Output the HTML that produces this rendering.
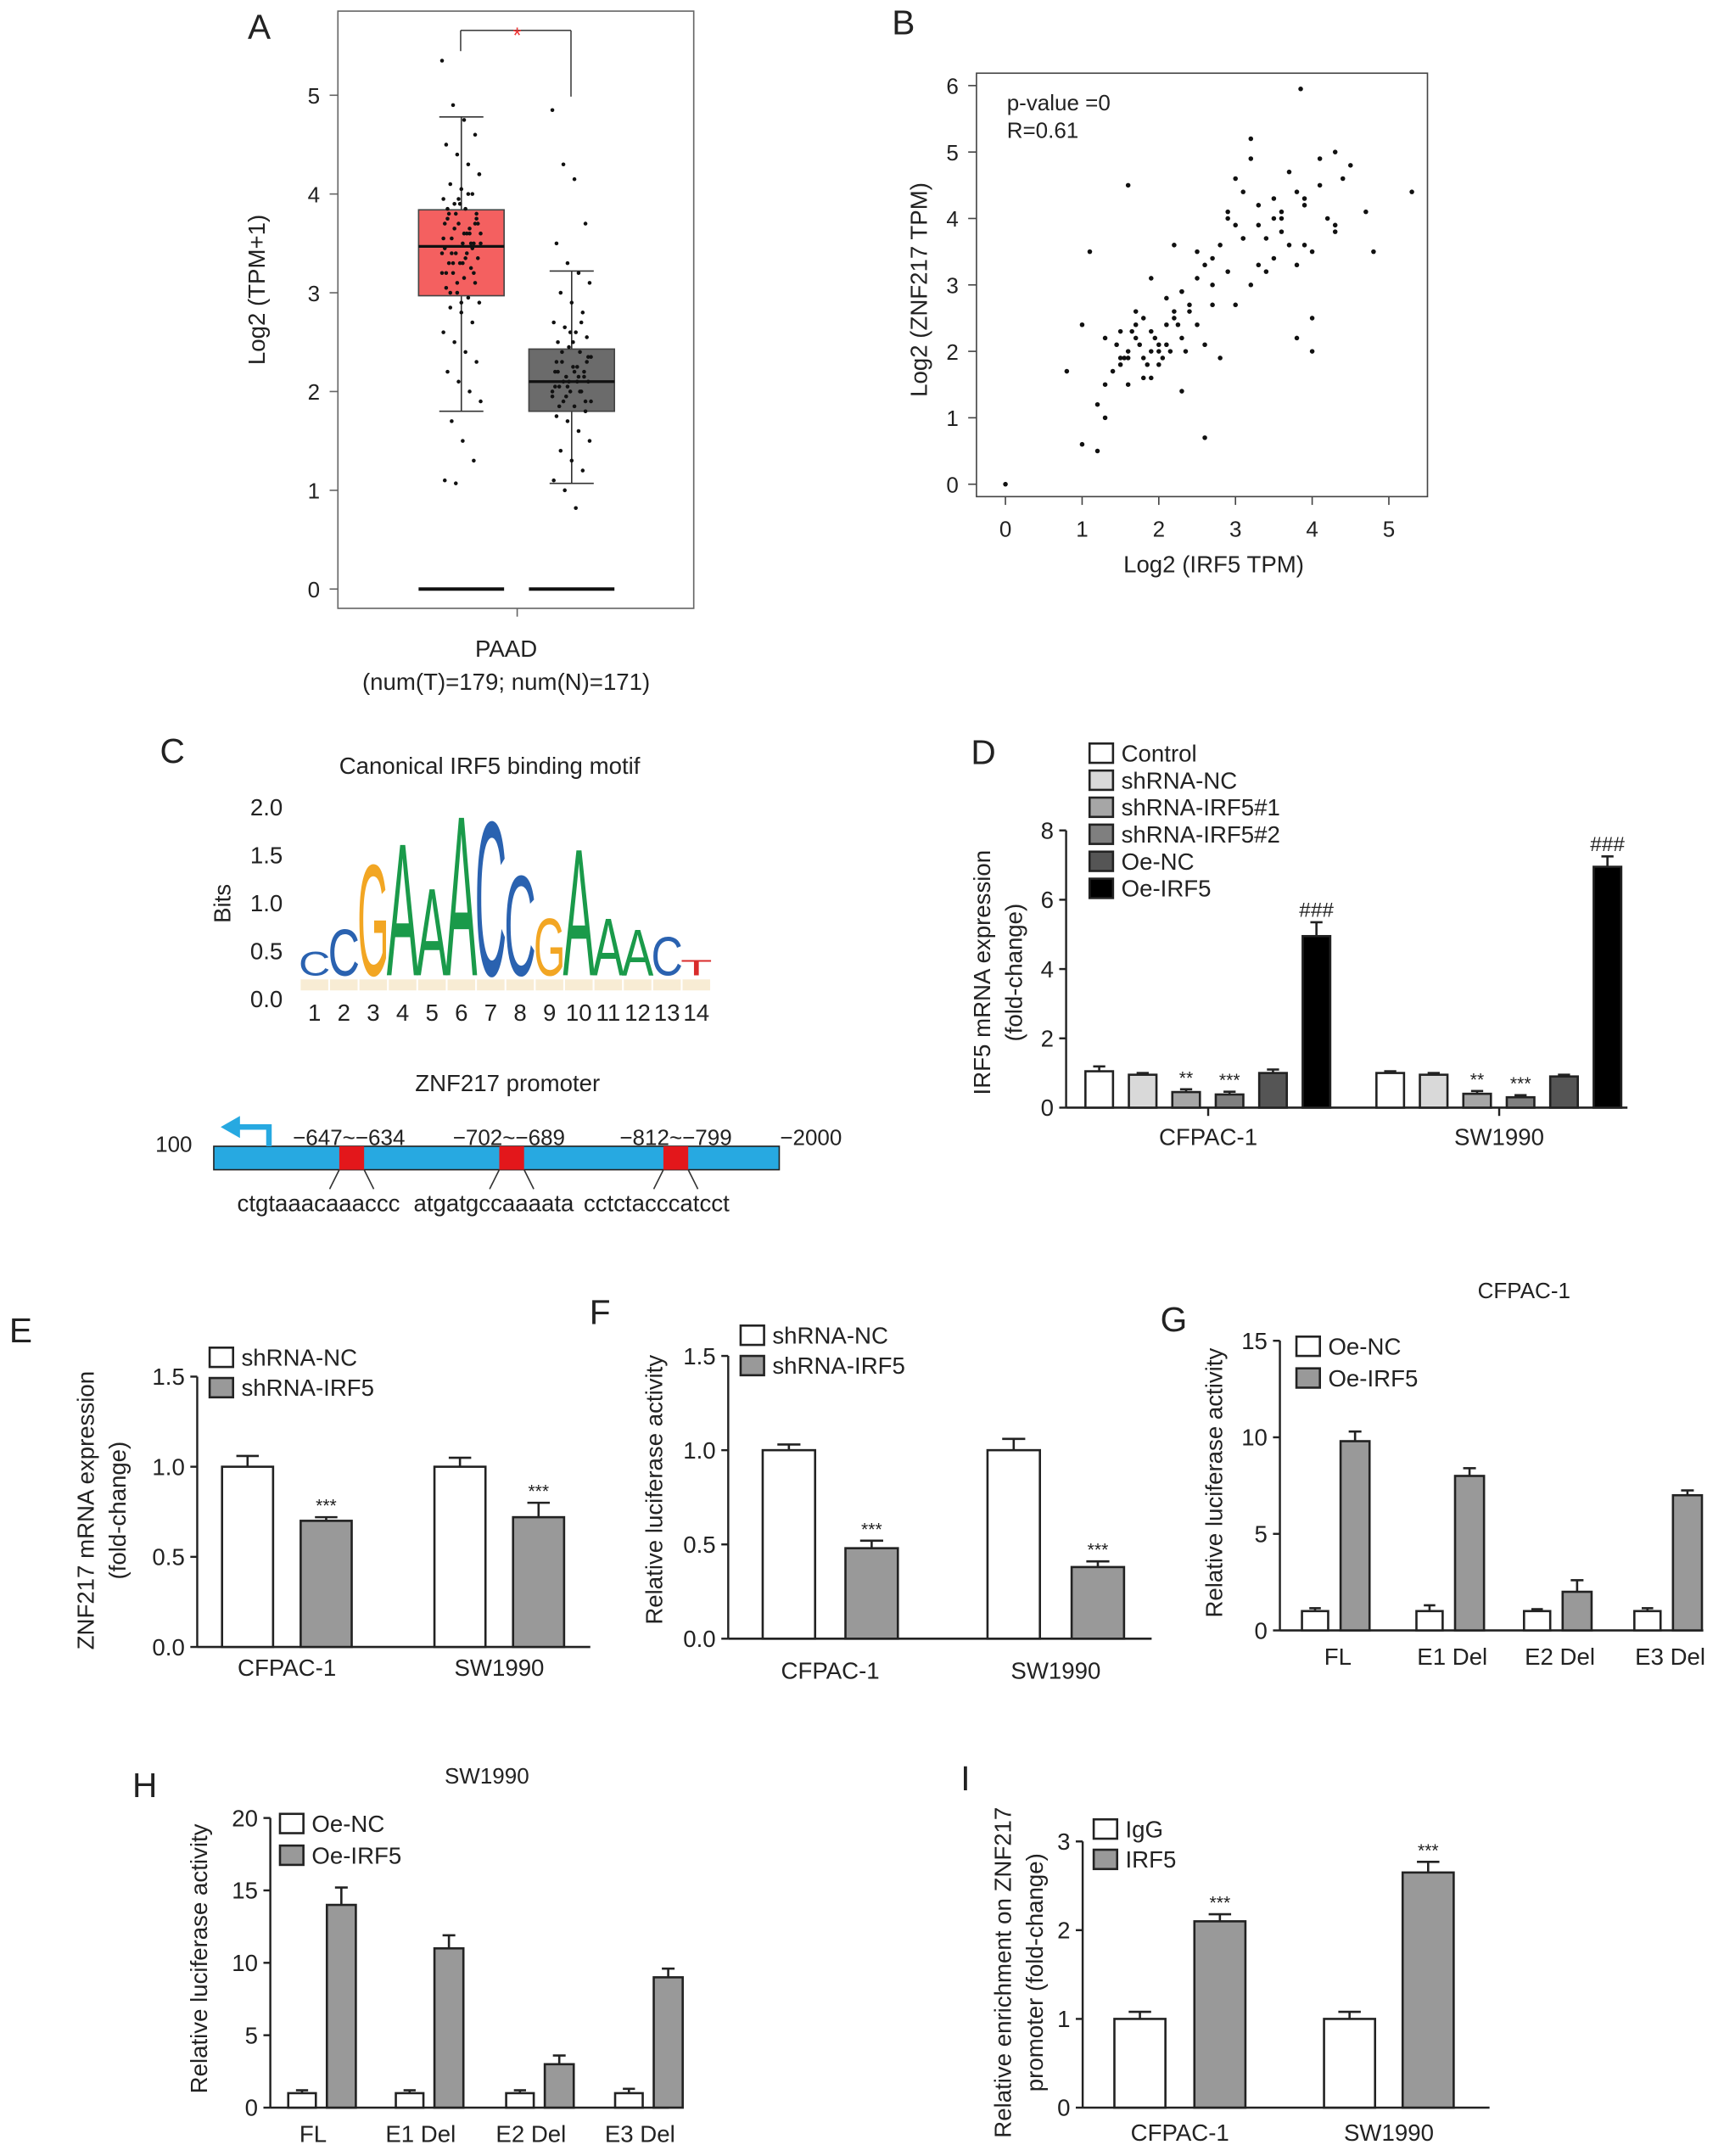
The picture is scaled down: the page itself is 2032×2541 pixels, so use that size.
<!DOCTYPE html>
<html><head><meta charset="utf-8"><style>
html,body{margin:0;padding:0;background:#fff}
svg{display:block;font-family:"Liberation Sans",Arial,sans-serif}
</style></head><body>
<svg id="fig" width="2032" height="2541" viewBox="0 0 1250 1563" xmlns="http://www.w3.org/2000/svg"></svg>
<script>
// ---------- DATA ----------
// Panel A
const boxLabels=["Tumor","Normal"];
const boxQ1=[2.97,1.80], boxMed=[3.47,2.10], boxQ3=[3.84,2.43], boxLo=[1.80,1.07], boxHi=[4.78,3.22];
const aTicks=[0,1,2,3,4,5];
const ptsT=[5.35,4.9,4.75,4.6,4.5,4.4,4.3,4.2,4.1,4.05,4.0,3.95,3.9,3.85,3.8,3.75,3.7,3.65,3.6,3.55,3.5,3.5,3.45,3.4,3.4,3.35,3.3,3.3,3.25,3.2,3.2,3.15,3.1,3.05,3.0,2.95,2.9,2.85,2.8,2.7,2.6,2.5,2.4,2.3,2.2,2.1,2.0,1.9,1.7,1.5,1.3,1.1,1.07,3.6,3.7,3.8,3.9,3.5,3.4,3.3,3.6,3.7,3.2,3.1,4.0,4.2,3.0,2.9,3.45,3.55,3.65,3.35,3.75,3.85,3.95,3.6,3.5,3.4,3.3,3.2,3.7,3.8];
const ptsN=[4.85,4.3,4.15,3.7,3.5,3.3,3.2,3.1,3.0,2.9,2.8,2.7,2.65,2.6,2.55,2.5,2.45,2.4,2.35,2.3,2.25,2.2,2.2,2.15,2.1,2.1,2.05,2.0,2.0,1.95,1.9,1.85,1.8,1.75,1.7,1.6,1.5,1.4,1.3,1.2,1.1,1.0,0.82,2.3,2.2,2.1,2.0,1.9,2.4,2.5,2.15,2.05,1.95,2.25,2.35,1.85,2.6,2.7,2.0,2.1,2.2,1.9,2.3,2.05,2.15];
// Panel B
const scX=[0,1.0,1.2,1.3,1.5,1.6,1.7,1.8,1.9,2.0,2.1,2.2,2.3,1.4,1.6,1.8,2.0,2.2,2.4,1.5,1.7,1.9,2.1,2.3,2.5,1.3,1.2,1.6,2.0,2.4,2.6,2.8,3.0,2.7,2.9,3.1,3.3,3.5,3.7,3.9,4.1,4.3,4.5,3.2,3.4,3.6,3.8,4.0,4.2,4.4,3.0,3.2,3.4,3.6,3.8,4.0,2.5,2.7,2.9,3.1,3.3,3.5,3.7,3.9,4.1,4.3,5.3,4.0,3.8,2.8,2.6,3.0,3.2,1.6,1.1,0.8,1.0,1.3,1.5,1.7,1.9,2.1,2.3,2.5,2.7,3.1,3.5,3.9,4.3,4.7,4.8,3.6,3.3,2.9,2.2,1.8,3.85,1.9,2.3,2.6,1.75,1.85,1.95,2.05,2.15,1.65,1.55,2.25,1.45,2.35];
const scY=[0,0.6,1.2,1.5,1.8,2.0,2.2,1.9,2.3,2.1,2.4,2.6,2.2,1.7,1.9,1.6,2.0,2.5,2.7,2.3,2.4,2.0,2.8,2.9,3.1,1.0,0.5,1.5,1.8,2.6,3.3,3.6,3.9,3.4,4.1,3.7,4.2,4.0,3.6,4.3,4.5,3.9,4.8,3.0,3.2,3.8,4.4,3.5,4.0,4.6,4.6,4.9,3.7,4.1,3.3,2.5,3.5,3.0,3.2,4.4,3.9,4.3,4.7,3.6,4.9,5.0,4.4,2.0,2.2,1.9,2.1,2.7,5.2,4.5,3.5,1.7,2.4,2.2,1.9,2.6,1.6,2.1,2.9,2.4,2.7,3.7,3.4,4.2,3.8,4.1,3.5,4.0,3.3,4.0,3.6,2.5,5.95,3.1,1.4,0.7,2.1,1.8,2.2,1.9,2.0,2.3,1.9,2.4,2.1,2.0];
const bTicksX=[0,1,2,3,4,5], bTicksY=[0,1,2,3,4,5,6];
// Panel C motif
const motifLetters=["C","C","G","A","A","A","C","C","G","A","A","A","C","T"];
const motifBits=[0.26,0.50,1.21,1.44,0.95,1.74,1.68,1.09,0.62,1.38,0.62,0.50,0.42,0.17];
const cTicks=[0,0.5,1.0,1.5,2.0];
// Panel D
const dGroups=["CFPAC-1","SW1990"];
const dSeries=["Control","shRNA-NC","shRNA-IRF5#1","shRNA-IRF5#2","Oe-NC","Oe-IRF5"];
const dVals=[[1.05,0.95,0.45,0.38,1.0,4.95],[1.0,0.95,0.4,0.3,0.9,6.95]];
const dErr=[[0.14,0.05,0.08,0.08,0.1,0.4],[0.05,0.05,0.08,0.06,0.05,0.3]];
const dSig=[["","","**","***","","###"],["","","**","***","","###"]];
const dTicks=[0,2,4,6,8];
// Panel E
const eVals=[[1.0,0.70],[1.0,0.72]], eErr=[[0.06,0.02],[0.05,0.08]];
const eTicks=[0,0.5,1.0,1.5];
// Panel F
const fVals=[[1.0,0.48],[1.0,0.38]], fErr=[[0.03,0.04],[0.06,0.03]];
const fTicks=[0,0.5,1.0,1.5];
// Panel G
const gGroups=["FL","E1 Del","E2 Del","E3 Del"];
const gVals=[[1,9.8],[1,8.0],[1,2.0],[1,7.0]], gErr=[[0.15,0.5],[0.3,0.4],[0.1,0.6],[0.15,0.25]];
const gTicks=[0,5,10,15];
// Panel H
const hVals=[[1,14],[1,11],[1,3],[1,9]], hErr=[[0.2,1.2],[0.2,0.9],[0.2,0.6],[0.3,0.6]];
const hTicks=[0,5,10,15,20];
// Panel I
const iVals=[[1.0,2.1],[1.0,2.65]], iErr=[[0.08,0.08],[0.08,0.12]];
const iTicks=[0,1,2,3];

// ---------- HELPERS ----------
const svg=document.getElementById('fig');
const NS="http://www.w3.org/2000/svg";
function mk(tag,attrs,parent,txt){const e=document.createElementNS(NS,tag);for(const k in attrs)e.setAttribute(k,attrs[k]);if(txt!==undefined)e.textContent=txt;(parent||svg).appendChild(e);return e;}
function grp(name){const g=mk('g',{});


return g;}
function txt(g,x,y,s,size,anchor,name,extra){const t=mk('text',Object.assign({x:x,y:y,'font-size':size||15,'text-anchor':anchor||'middle',fill:'#222'},extra||{}),g,s);


return t;}
function line(g,x1,y1,x2,y2,w,c){return mk('line',{x1,y1,x2,y2,stroke:c||'#222','stroke-width':w||1.2},g);}
function lin(d0,d1,r0,r1){return v=>r0+(v-d0)*(r1-r0)/(d1-d0);}
function rotTitle(g,x,y,s,name){const t=txt(g,x,y,s,17,'middle',name,{transform:`rotate(-90 ${x} ${y})`});return t;}
function panelLetter(x,y,l){const t=txt(svg,x,y,l,25,'middle','panel-label-'+l.toLowerCase());}

function yAxis(g,x,y0,y1,ticks,ys,fmt){line(g,x,y0,x,y1,1.5);ticks.forEach(v=>{const y=ys(v);line(g,x-5,y,x,y,1.5);txt(g,x-9,y+6,fmt?fmt(v):String(v),17,'end','y-tick-label');});}
function bar(g,x,w,v,e,ys,fill,name,sig){
  const y=ys(v),y0=ys(0);
  const r=mk('rect',{x:x,y:y,width:w,height:y0-y,fill:fill,stroke:'#222','stroke-width':1.6},g);
  
  
  const ye=ys(v+e);line(g,x+w/2,y,x+w/2,ye,1.6);line(g,x+w/2-w*0.22,ye,x+w/2+w*0.22,ye,1.6);
  if(sig)txt(g,x+w/2,ye-4,sig,sig[0]=='#'?15:13,'middle','significance-mark');
}
function legend(g,x,y,items,fills,step){items.forEach((s,i)=>{const r=mk('rect',{x:x,y:y+i*step-13,width:17,height:14,fill:fills[i],stroke:'#222','stroke-width':1.6},g);


txt(g,x+23,y+i*step,s,17,'start','legend-entry');});}

// ---------- PANEL A ----------
(function(){const g=grp('panel-a-boxplot');
panelLetter(188,28,'A');
mk('rect',{x:245,y:8,width:258,height:433,fill:'none',stroke:'#666','stroke-width':1},g);
const ys=lin(0,5,427,69);
aTicks.forEach(v=>{const y=ys(v);line(g,239,y,245,y,1,'#666');txt(g,232,y+6,String(v),16,'end','y-tick-label');});
rotTitle(g,192,210,'Log2 (TPM+1)','y-axis-title');
const cx=[334.5,414.5],fills=['#f46060','#6b6b6b'];
boxLabels.forEach((b,i)=>{
  const c=cx[i];
  line(g,c,ys(boxLo[i]),c,ys(boxQ1[i]),1,'#333');line(g,c,ys(boxQ3[i]),c,ys(boxHi[i]),1,'#333');
  line(g,c-16,ys(boxLo[i]),c+16,ys(boxLo[i]),1,'#333');line(g,c-16,ys(boxHi[i]),c+16,ys(boxHi[i]),1,'#333');
  const r=mk('rect',{x:c-31,y:ys(boxQ3[i]),width:62,height:ys(boxQ1[i])-ys(boxQ3[i]),fill:fills[i],stroke:'#444','stroke-width':1},g);
  
  
  line(g,c-31,ys(boxMed[i]),c+31,ys(boxMed[i]),2,'#111');
  line(g,c-31,ys(0),c+31,ys(0),2.5,'#111');
  const pts=i==0?ptsT:ptsN;
  pts.forEach((v,k)=>{const jx=((k*37)%29-14)*1.0;mk('circle',{cx:c+jx,cy:ys(v),r:1.4,fill:'#111'},g);});
});
line(g,334,22,414,22,1,'#444');line(g,334,22,334,37,1,'#444');line(g,414,22,414,70,1,'#444');
txt(g,375,31,'*',16,'middle','significance-star',{fill:'#e33'});
line(g,375,441,375,447,1,'#666');
txt(g,367,476,'PAAD',17,'middle','x-axis-label');
txt(g,367,500,'(num(T)=179; num(N)=171)',17,'middle','x-axis-sublabel');
})();

// ---------- PANEL B ----------
(function(){const g=grp('panel-b-scatter');
panelLetter(655,25,'B');
mk('rect',{x:708,y:53,width:327,height:307,fill:'none',stroke:'#444','stroke-width':1},g);
const xs=lin(0,5,729,1007),ys=lin(0,6,351,62);
bTicksX.forEach(v=>{const x=xs(v);line(g,x,360,x,366,1,'#444');txt(g,x,389,String(v),16,'middle','x-tick-label');});
bTicksY.forEach(v=>{const y=ys(v);line(g,702,y,708,y,1,'#444');txt(g,695,y+6,String(v),16,'end','y-tick-label');});
scX.forEach((v,i)=>{mk('circle',{cx:xs(v),cy:ys(scY[i]),r:1.7,fill:'#111'},g);});
txt(g,730,80,'p-value =0',16,'start','p-value-annotation');
txt(g,730,100,'R=0.61',16,'start','r-annotation');
txt(g,880,415,'Log2 (IRF5 TPM)',17,'middle','x-axis-title');
rotTitle(g,672,210,'Log2 (ZNF217 TPM)','y-axis-title');
})();

// ---------- PANEL C ----------
(function(){const g=grp('panel-c-motif');
panelLetter(125,553,'C');
txt(g,355,561,'Canonical IRF5 binding motif',17,'middle','motif-title');
const ys=lin(0,2,724,585);
cTicks.forEach(v=>txt(g,205,ys(v)+6,v.toFixed(1),17,'end','y-tick-label'));
rotTitle(g,167,655,'Bits','y-axis-title');
const col={A:'#1a9a4a',C:'#2a62b0',G:'#f2a623',T:'#d92b2b'};
const adv={A:0.667,C:0.722,G:0.778,T:0.611};
const base=707,pxPerBit=69.5;
motifLetters.forEach((L,i)=>{
  const cx=228+i*21.3,h=motifBits[i]*pxPerBit;
  const sx=23/(adv[L]*100),sy=h/72.9;
  const t=mk('text',{x:0,y:0,'font-size':100,'text-anchor':'middle',fill:col[L],transform:`translate(${cx} ${base}) scale(${sx} ${sy})`},g,L);
  
  
  mk('rect',{x:cx-10,y:base+3,width:20,height:8,fill:'#e8c070',opacity:0.3},g);
  txt(g,cx,740,String(i+1),17,'middle','position-label');
});
txt(g,368,791,'ZNF217 promoter',17,'middle','promoter-title');
const b=mk('rect',{x:155,y:831,width:410,height:17,fill:'#27a9e1',stroke:'#222','stroke-width':1},g);


[255,371,490].forEach(x=>{mk('rect',{x:x-9,y:831,width:18,height:17,fill:'#e3171b'},g);line(g,x-9,848,x-16,862,1,'#333');line(g,x+9,848,x+16,862,1,'#333');});
mk('path',{d:'M195 831 L195 817 L172 817',fill:'none',stroke:'#27a9e1','stroke-width':4},g);
mk('path',{d:'M160 817 L174 809 L174 825 Z',fill:'#27a9e1'},g);
txt(g,126,835,'100',16,'middle','promoter-start');
txt(g,253,830,'−647~−634',16,'middle','site-label');
txt(g,369,830,'−702~−689',16,'middle','site-label');
txt(g,490,830,'−812~−799',16,'middle','site-label');
txt(g,588,830,'−2000',16,'middle','promoter-end');
txt(g,231,878,'ctgtaaacaaaccc',17,'middle','site-sequence');
txt(g,358,878,'atgatgccaaaata',17,'middle','site-sequence');
txt(g,476,878,'cctctacccatcct',17,'middle','site-sequence');
})();

// ---------- PANEL D ----------
(function(){const g=grp('panel-d-bars');
panelLetter(713,554,'D');
const ys=lin(0,8,803,602);
yAxis(g,773,803,602,dTicks,ys);line(g,773,803,1180,803,1.6);
const fills=['#ffffff','#d9d9d9','#a6a6a6','#7f7f7f','#555555','#000000'];
const g0=[787,998];
dGroups.forEach((gn,gi)=>{dVals[gi].forEach((v,si)=>bar(g,g0[gi]+si*31.5,20,v,dErr[gi][si],ys,fills[si],'bar-'+gn.toLowerCase()+'-'+dSeries[si].toLowerCase(),dSig[gi][si]));
line(g,g0[gi]+89,803,g0[gi]+89,809,1.5);
txt(g,g0[gi]+89,830,gn,17,'middle','x-tick-label');});
legend(g,790,552,dSeries,fills,19.6);
rotTitle(g,718,705,'IRF5 mRNA expression','y-axis-title');
rotTitle(g,741,705,'(fold-change)','y-axis-title-2');
})();

function twoBar(name,ax,y0,ytop,ticks,tmax,xEnd,groupsX,vals,errs,w,labels,labY,legX,legY,legItems,sigs,fmt){
  const g=grp(name);
  const ys=lin(0,tmax,y0,ytop);
  yAxis(g,ax,y0,ytop,ticks,ys,fmt);line(g,ax,y0,xEnd,y0,1.6);
  groupsX.forEach((gx,gi)=>{bar(g,gx[0],w,vals[gi][0],errs[gi][0],ys,'#fff','bar-'+labels[gi].toLowerCase()+'-control');
    bar(g,gx[1],w,vals[gi][1],errs[gi][1],ys,'#999','bar-'+labels[gi].toLowerCase()+'-treated',sigs?sigs[gi]:'');
    txt(g,(gx[0]+gx[1]+w)/2,labY,labels[gi],17,'middle','x-tick-label');});
  legend(g,legX,legY,legItems,['#fff','#999'],22);
  return g;
}
// ---------- PANEL E ----------
(function(){const g=twoBar('panel-e-bars',143,1194,998,eTicks,1.5,428,[[161,218],[315,372]],eVals,eErr,37,['CFPAC-1','SW1990'],1215,152,990,['shRNA-NC','shRNA-IRF5'],['***','***'],v=>v.toFixed(1));
panelLetter(15,973,'E');
rotTitle(g,68,1095,'ZNF217 mRNA expression','y-axis-title');rotTitle(g,91,1095,'(fold-change)','y-axis-title-2');})();
// ---------- PANEL F ----------
(function(){const g=twoBar('panel-f-bars',528,1188,983,fTicks,1.5,835,[[553,613],[716,777]],fVals,fErr,38,['CFPAC-1','SW1990'],1217,537,974,['shRNA-NC','shRNA-IRF5'],['***','***'],v=>v.toFixed(1));
panelLetter(435,960,'F');
rotTitle(g,480,1080,'Relative luciferase activity','y-axis-title');})();
// ---------- PANEL G ----------
(function(){const g=grp('panel-g-bars');panelLetter(851,965,'G');
txt(g,1105,941,'CFPAC-1',16,'middle','panel-title');
const ys=lin(0,15,1182,972);yAxis(g,928,1182,972,gTicks,ys);line(g,928,1182,1235,1182,1.6);
const cx=[972,1055,1133,1213];
gGroups.forEach((n,i)=>{bar(g,cx[i]-28,19,gVals[i][0],gErr[i][0],ys,'#fff','bar-'+n+'-oe-nc');bar(g,cx[i],21,gVals[i][1],gErr[i][1],ys,'#999','bar-'+n+'-oe-irf5');txt(g,cx[i]-2,1207,n,17,'middle','x-tick-label');});
legend(g,940,982,['Oe-NC','Oe-IRF5'],['#fff','#999'],23);
rotTitle(g,886,1075,'Relative luciferase activity','y-axis-title');})();
// ---------- PANEL H ----------
(function(){const g=grp('panel-h-bars');panelLetter(105,1303,'H');
txt(g,353,1293,'SW1990',16,'middle','panel-title');
const ys=lin(0,20,1528,1318);yAxis(g,196,1528,1318,hTicks,ys);line(g,196,1528,485,1528,1.6);
const cx=[237,315,395,474];
gGroups.forEach((n,i)=>{bar(g,cx[i]-28,20,hVals[i][0],hErr[i][0],ys,'#fff','bar-'+n+'-oe-nc');bar(g,cx[i],21,hVals[i][1],hErr[i][1],ys,'#999','bar-'+n+'-oe-irf5');txt(g,cx[i]-10,1553,n,17,'middle','x-tick-label');});
legend(g,203,1328,['Oe-NC','Oe-IRF5'],['#fff','#999'],23);
rotTitle(g,150,1420,'Relative luciferase activity','y-axis-title');})();
// ---------- PANEL I ----------
(function(){const g=twoBar('panel-i-bars',785,1528,1335,iTicks,3,1080,[[808,866],[960,1017]],iVals,iErr,37,['CFPAC-1','SW1990'],1552,793,1332,['IgG','IRF5'],['***','***']);
panelLetter(700,1298,'I');
rotTitle(g,733,1430,'Relative enrichment on ZNF217','y-axis-title');rotTitle(g,756,1430,'promoter (fold-change)','y-axis-title-2');})();
</script>
</body></html>
